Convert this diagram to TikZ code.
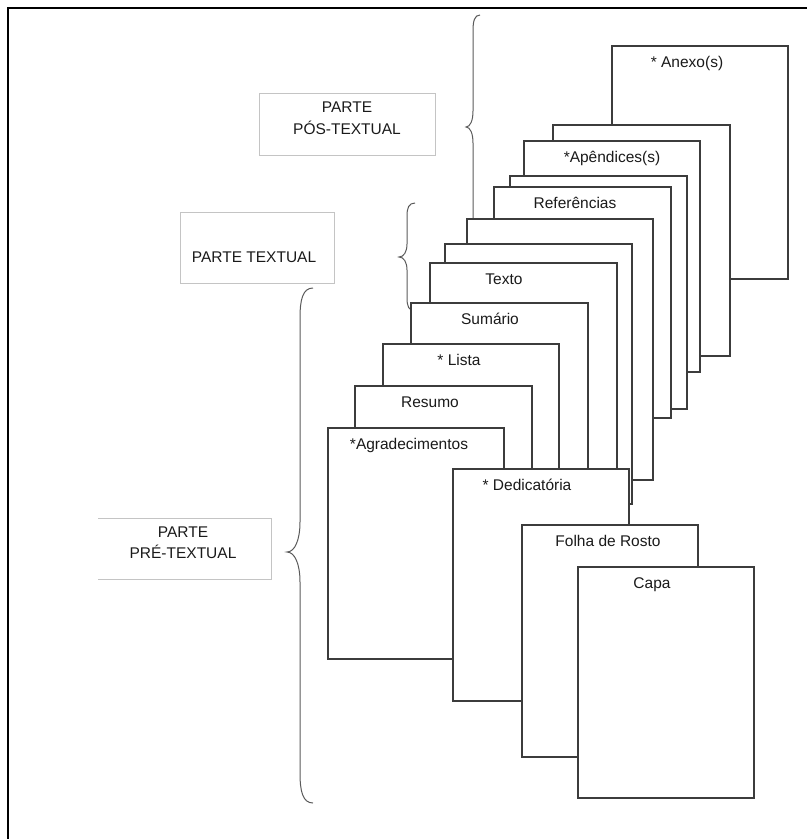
\documentclass[tikz,border=0pt]{standalone}
\usepackage{fontspec}
\setmainfont{Liberation Sans}
\usetikzlibrary{calc}
\definecolor{contorno}{HTML}{3C3C3C}
\definecolor{cinzaCaixa}{HTML}{C4C4C4}
\definecolor{cinzaChave}{HTML}{5A5A5A}
\definecolor{escrita}{HTML}{1A1A1A}
\tikzset{
  folha/.style = {draw = contorno, fill = white, line width = 1.1pt},
  rotulo/.style = {anchor = base, inner sep = 0pt, text = escrita, font = \fontsize{15.5}{22}\selectfont},
  caixa/.style = {draw = cinzaCaixa, line width = 0.9pt},
  chave/.style = {draw = cinzaChave, line width = 1pt}
}
% chave: x, topo, ponta, fundo, largura, raio
\newcommand{\chave}[6]{
\draw[chave] (#1+#5,#2) .. controls +(-0.8*#5,0) and +(0,-0.6*#6) .. (#1,#2+#6)
  -- (#1,#3-#6) .. controls +(0,0.6*#6) and +(0.6*#5,0) .. (#1-#5,#3)
  .. controls +(0.6*#5,0) and +(0,-0.6*#6) .. (#1,#3+#6)
  -- (#1,#4-#6) .. controls +(0,0.6*#6) and +(-0.8*#5,0) .. (#1+#5,#4);
}
\begin{document}
\begin{tikzpicture}[x = 1pt, y = -1pt]
    \useasboundingbox (0,0) rectangle (807,839);
    % Moldura
    \draw[line width = 2.4pt] (8,839) -- (8,8) -- (807,8);
    % Caixas das partes (base = ultima linha)
    \draw[caixa] (259,93) rectangle (435,155);
    \node[rotulo, align = center] (pos) at (347,134) {PARTE\\PÓS-TEXTUAL};
    \draw[caixa] (180,212) rectangle (334,283);
    \node[rotulo] (textual) at (254,262) {PARTE TEXTUAL};
    \draw[caixa] (98,518) -- (271,518) -- (271,579) -- (98,579);
    \node[rotulo, align = center, font = \fontsize{15.5}{21}\selectfont] (pre) at (183,558) {PARTE\\PRÉ-TEXTUAL};
    % Chaves
    \chave{473}{15}{127}{240}{7}{16}
    \chave{407}{203}{257}{311}{8}{13}
    \chave{300}{288}{552}{803}{13}{30}
    % Folhas (do fundo para a frente)
    \foreach \nome/\xa/\ya/\xb/\yb/\dx/\txt in {
        anexo/612/46/788/279/75/{* Anexo(s)},
        vazia1/553/125/730/356/88/{},
        apendices/524/141/700/372/88/{*Apêndices(s)},
        vazia2/510/176/687/409/88/{},
        referencias/494/187/671/418/81/{Referências},
        vazia3/467/219/653/480/88/{},
        vazia4/445/244/632/504/88/{},
        texto/430/263/617/494/74/{Texto},
        sumario/411/303/588/534/79/{Sumário},
        lista/383/344/559/575/76/{* Lista},
        resumo/355/386/532/617/75/{Resumo},
        agradecimentos/328/428/504/659/81/{*Agradecimentos},
        dedicatoria/453/469/629/701/74/{* Dedicatória},
        rosto/522/525/698/757/86/{Folha de Rosto},
        capa/578/567/754/798/74/{Capa}}{
        \draw[folha] (\xa,\ya) rectangle (\xb,\yb);
        \node[rotulo] (\nome) at (\xa+\dx,\ya+21) {\txt};
    }
\end{tikzpicture}
\end{document}
